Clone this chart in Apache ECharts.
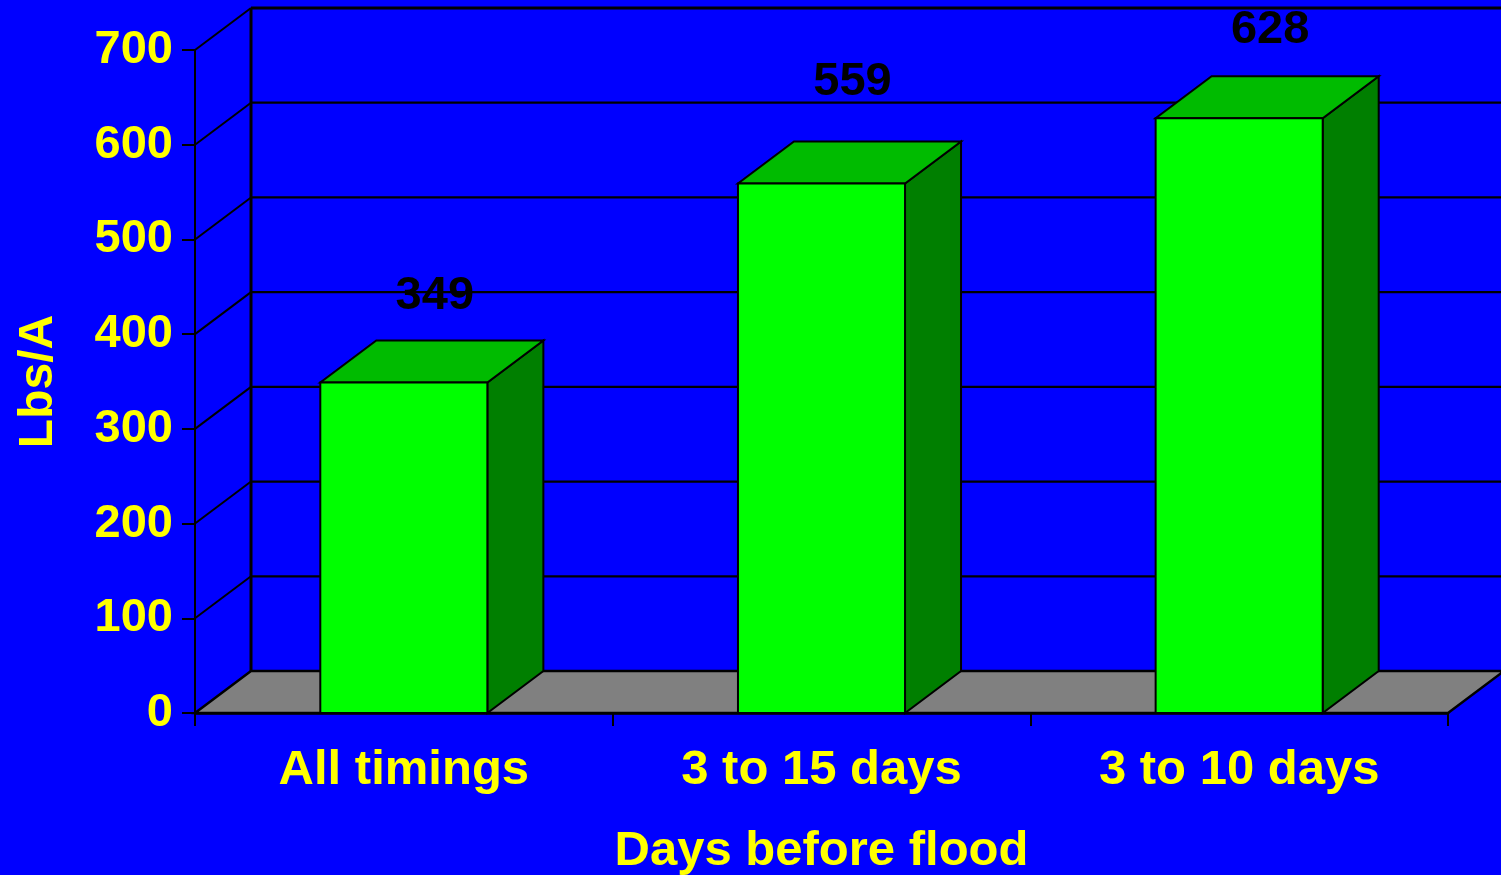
<!DOCTYPE html>
<html>
<head>
<meta charset="utf-8">
<script src="https://cdn.jsdelivr.net/npm/echarts@6/dist/echarts.min.js"></script>
<style>
html,body{margin:0;padding:0;background:#0000FF;}
#chart{width:1501px;height:875px;}
</style>
</head>
<body>
<div id="chart"></div>
<script>
const categories = ['All timings', '3 to 15 days', '3 to 10 days'];
const values = [349, 559, 628];
const yTicks = [0, 100, 200, 300, 400, 500, 600, 700];

// style constants
const DX = 56, DY = -42;
const labelLift = [46, 62, 48];
const FONT = 'Liberation Sans, Arial, sans-serif';

const chart = echarts.init(document.getElementById('chart'));

const option = {
  backgroundColor: '#0000FF',
  animation: false,
  grid: { left: 195, right: 53, top: 50, bottom: 162, containLabel: false, outerBoundsMode: 'none' },
  xAxis: {
    type: 'category',
    data: categories,
    z: 5,
    axisLine: { show: true, lineStyle: { color: '#000', width: 2.5 } },
    axisTick: { show: true, length: 13, lineStyle: { color: '#000', width: 2 } },
    axisLabel: { color: '#FFFF00', fontSize: 49, fontWeight: 'bold', fontFamily: FONT, margin: 33 },
    splitLine: { show: false },
    name: 'Days before flood',
    nameLocation: 'middle',
    nameGap: 114,
    nameTextStyle: { color: '#FFFF00', fontSize: 49, fontWeight: 'bold', fontFamily: FONT }
  },
  yAxis: {
    type: 'value',
    min: 0, max: 700, interval: 100,
    z: 5,
    axisLine: { show: true, lineStyle: { color: '#000', width: 2 } },
    axisTick: { show: true, length: 13, lineStyle: { color: '#000', width: 2 } },
    axisLabel: { color: '#FFFF00', fontSize: 47, fontWeight: 'bold', fontFamily: FONT, margin: 22 },
    splitLine: { show: false },
    name: 'Lbs/A',
    nameLocation: 'middle',
    nameGap: 132,
    nameRotate: 90,
    nameTextStyle: { color: '#FFFF00', fontSize: 48, fontWeight: 'bold', fontFamily: FONT }
  },
  series: [
    {
      type: 'custom',
      name: 'walls',
      data: yTicks.map(v => [0, v]),
      encode: { x: 0, y: 1 },
      silent: true,
      z: 1,
      renderItem: function (params, api) {
        const cs = params.coordSys;
        const x0 = cs.x, x1 = cs.x + cs.width;
        const v = api.value(1);
        const y = api.coord([0, v])[1];
        const children = [];
        if (v === 0) {
          const yTop = api.coord([0, yTicks[yTicks.length - 1]])[1];
          children.push({
            type: 'polygon',
            shape: { points: [[x0, y], [x1, y], [x1 + DX, y + DY], [x0 + DX, y + DY]] },
            style: { fill: '#808080', stroke: '#000', lineWidth: 2.5 }
          });
          children.push({
            type: 'line',
            shape: { x1: x0 + DX, y1: y + DY, x2: x0 + DX, y2: yTop + DY },
            style: { stroke: '#000', lineWidth: 3 }
          });
        } else {
          children.push({
            type: 'line',
            shape: { x1: x0, y1: y, x2: x0 + DX, y2: y + DY },
            style: { stroke: '#000', lineWidth: 2 }
          });
          children.push({
            type: 'line',
            shape: { x1: x0 + DX, y1: y + DY, x2: x1 + DX, y2: y + DY },
            style: { stroke: '#000', lineWidth: v === yTicks[yTicks.length - 1] ? 3 : 2.2 }
          });
        }
        return { type: 'group', children: children };
      }
    },
    {
      type: 'custom',
      name: 'bars',
      data: values.map((v, i) => [i, v]),
      encode: { x: 0, y: 1 },
      z: 3,
      renderItem: function (params, api) {
        const idx = api.value(0);
        const top = api.coord([idx, api.value(1)]);
        const base = api.coord([idx, 0]);
        const w = api.size([1, 0])[0] * 0.4;
        const xl = top[0] - w / 2, xr = top[0] + w / 2;
        const yt = top[1], yb = base[1];
        const st = { stroke: '#000', lineWidth: 2, lineJoin: 'miter' };
        return {
          type: 'group',
          children: [
            { type: 'polygon', shape: { points: [[xr, yt], [xr, yb], [xr + DX, yb + DY], [xr + DX, yt + DY]] },
              style: Object.assign({ fill: '#007F00' }, st) },
            { type: 'polygon', shape: { points: [[xl, yt], [xr, yt], [xr + DX, yt + DY], [xl + DX, yt + DY]] },
              style: Object.assign({ fill: '#00BB00' }, st) },
            { type: 'rect', shape: { x: xl, y: yt, width: w, height: yb - yt },
              style: Object.assign({ fill: '#00FF00' }, st) },
            { type: 'text', x: top[0] + DX / 2 + 3, y: yt + DY - labelLift[idx] + 2,
              style: { text: String(api.value(1)), fill: '#000', font: 'bold 47px ' + FONT,
                       align: 'center', verticalAlign: 'middle' } }
          ]
        };
      }
    }
  ]
};
chart.setOption(option);
</script>
</body>
</html>
